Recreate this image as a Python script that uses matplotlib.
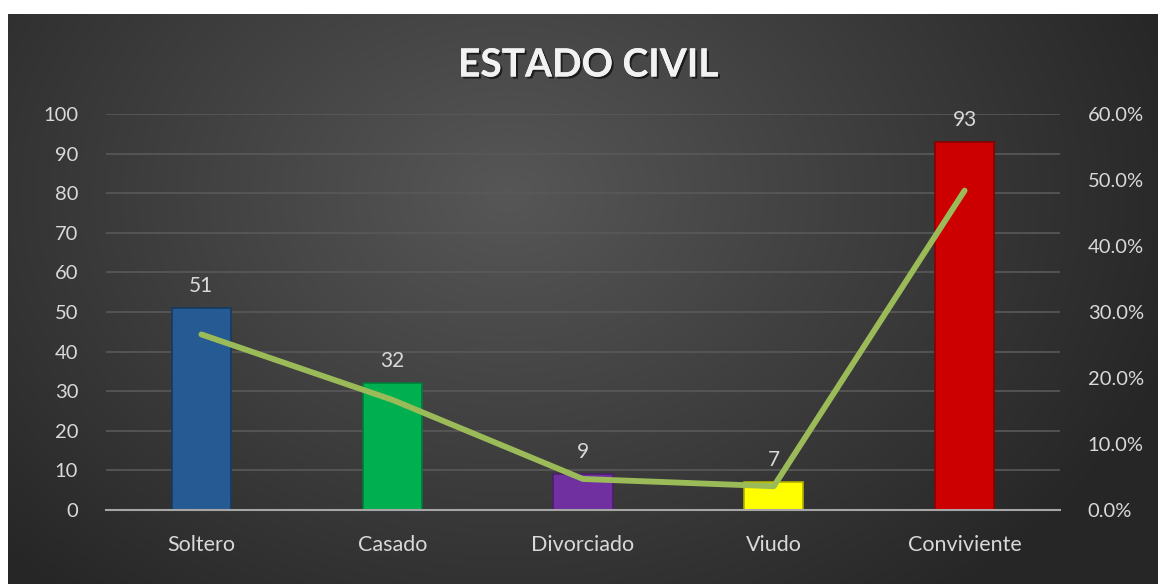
import numpy as np
import matplotlib.pyplot as plt
from matplotlib.ticker import FuncFormatter
import matplotlib.patheffects as pe

# datos
categorias = ['Soltero', 'Casado', 'Divorciado', 'Viudo', 'Conviviente']
frecuencia = [51, 32, 9, 7, 93]
porcentaje = [26.6, 16.7, 4.7, 3.6, 48.4]
colores = ['#265a92', '#00b050', '#7030a0', '#ffff00', '#cc0000']
bordes = ['#163a60', '#007a38', '#4a1f6b', '#b0b000', '#8a0000']

plt.rcParams['font.family'] = ['Lato', 'DejaVu Sans']

fig = plt.figure(figsize=(11.58, 5.84), dpi=100)

# fondo con degradado radial
bg = fig.add_axes([8 / 1158, 0, 1 - 8 / 1158, 1 - 14 / 584])
h, w = 570, 1150
yy, xx = np.mgrid[0:h, 0:w]
d = np.sqrt(((xx - 500) / 700) ** 2 + ((yy - 180) / 520) ** 2)
d = np.clip(d, 0, 1)
v = 0.34 - 0.19 * d
img = np.dstack([v, v, v])
bg.imshow(img, aspect='auto', extent=[0, 1, 0, 1], origin='upper')
bg.axis('off')

ax = fig.add_axes([106 / 1158, 74 / 584, 954 / 1158, 396 / 584])
ax.patch.set_alpha(0)
x = np.arange(len(categorias))
barras = ax.bar(x, frecuencia, width=0.31, color=colores, edgecolor=bordes,
                linewidth=1.2, zorder=3)
for xi, f in zip(x, frecuencia):
    ax.text(xi, f + 3, str(f), ha='center', va='bottom', color='#d9d9d9',
            fontsize=15, zorder=5)

ax.set_xlim(-0.5, len(categorias) - 0.5)
ax.set_ylim(0, 100)
ax.set_yticks(range(0, 101, 10))
ax.set_xticks(x)
ax.set_xticklabels(categorias)
ax.grid(axis='y', color='#595959', linewidth=1.2, zorder=0)
ax.tick_params(axis='y', length=0, pad=20, labelsize=14.5, labelcolor='#d9d9d9')
ax.tick_params(axis='x', length=0, pad=18, labelsize=15.5, labelcolor='#d9d9d9')
for s in ['top', 'left', 'right']:
    ax.spines[s].set_visible(False)
ax.spines['bottom'].set_color('#a6a6a6')
ax.spines['bottom'].set_linewidth(1.5)
ax.spines['bottom'].set_zorder(4)

ax2 = ax.twinx()
ax2.plot(x, np.array(porcentaje) / 100, color='#9bbb59', linewidth=4.2,
         solid_capstyle='round', solid_joinstyle='round', zorder=6)
ax2.set_ylim(0, 0.6)
ax2.set_yticks(np.arange(0, 0.61, 0.1))
ax2.yaxis.set_major_formatter(FuncFormatter(lambda v, p: f'{v * 100:.1f}%'))
ax2.tick_params(axis='y', length=0, pad=20, labelsize=14.5, labelcolor='#d9d9d9')
for s in ax2.spines.values():
    s.set_visible(False)

fig.text(0.508, 1 - 65 / 584, 'ESTADO CIVIL', ha='center', va='center',
         fontsize=28, fontweight='bold', color='#f2f2f2',
         path_effects=[pe.withSimplePatchShadow(offset=(1.5, -1.5),
                                                shadow_rgbFace='black', alpha=0.6),
                       pe.Normal()])

fig.savefig('out.png', dpi=100, facecolor='white')
